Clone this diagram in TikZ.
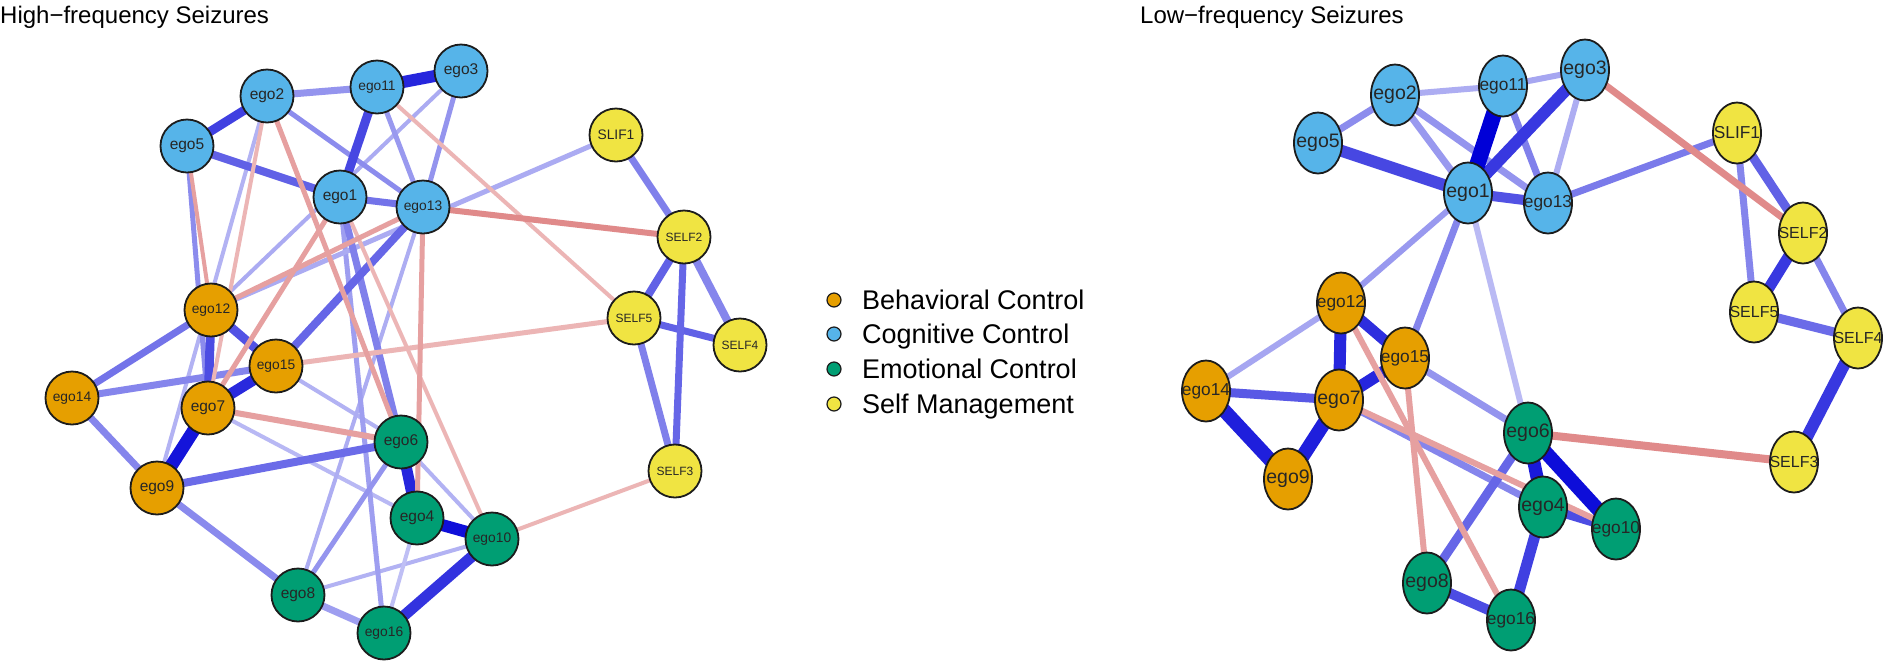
\documentclass[tikz,border=0pt]{standalone}
\usepackage{fontspec}
\setmainfont{Liberation Sans}
\usetikzlibrary{shapes.geometric}
\pgfdeclarelayer{bg}
\pgfsetlayers{bg,main}
\definecolor{qb}{RGB}{0,0,215}
\definecolor{nblue}{HTML}{56B4E9}
\definecolor{norange}{HTML}{E69F00}
\definecolor{ngreen}{HTML}{009E73}
\definecolor{nyellow}{HTML}{F0E442}
\definecolor{pkA}{HTML}{E08A8A}
\definecolor{pkB}{HTML}{E6A0A0}
\definecolor{pkC}{HTML}{ECB5B5}
\definecolor{nborder}{HTML}{1C1C1C}
\begin{document}
\begin{tikzpicture}[x=1pt,y=-1pt,
  lc/.style={circle, draw=nborder, line width=1.8pt, minimum size=53pt, inner sep=0pt, text=black!85},
  rc/.style={ellipse, draw=nborder, line width=1.8pt, minimum width=48pt, minimum height=61pt, inner sep=0pt},
  bc/.style={fill=nblue}, oc/.style={fill=norange}, gc/.style={fill=ngreen}, yc/.style={fill=nyellow},
  fa/.style={font=\fontsize{15.5}{16}\selectfont},
  fb/.style={font=\fontsize{13.8}{14}\selectfont},
  fs/.style={font=\fontsize{12}{13}\selectfont},
  rl/.style={text=black!85, inner sep=0pt},
  ra/.style={font=\fontsize{19.5}{20}\selectfont},
  rb/.style={font=\fontsize{17.3}{18}\selectfont},
  rs/.style={font=\fontsize{16}{17}\selectfont},
  pe/.style n args={2}{line width=#1pt, draw=qb!#2!white},
  ne/.style n args={2}{line width=#1pt, draw=#2},
  lgdot/.style={circle, draw=nborder, line width=1.2pt, minimum size=14pt, inner sep=0pt},
  lgtxt/.style={anchor=base west, inner sep=0pt, font=\fontsize{27}{30}\selectfont},
  ttl/.style={anchor=base west, inner sep=0pt, font=\fontsize{24}{28}\selectfont}
]
\useasboundingbox (0,0) rectangle (1890,665);
\begin{pgfonlayer}{bg}
\fill[white] (0,0) rectangle (1890,665);
\end{pgfonlayer}

% titles
\node[ttl] (t1) at (0,23) {High−frequency Seizures};
\node[ttl] (t2) at (1140,23) {Low−frequency Seizures};

% ---------------- left network nodes ----------------
\node[lc,bc,fa] (Lego2) at (267,96) {ego2};
\node[lc,bc,fb] (Lego11) at (377,87) {ego11};
\node[lc,bc,fa] (Lego3) at (461,71) {ego3};
\node[lc,bc,fa] (Lego5) at (187,146) {ego5};
\node[lc,bc,fa] (Lego1) at (340,197) {ego1};
\node[lc,bc,fb] (Lego13) at (423,207) {ego13};
\node[lc,oc,fb] (Lego12) at (211,310) {ego12};
\node[lc,oc,fb] (Lego15) at (276,366) {ego15};
\node[lc,oc,fb] (Lego14) at (72,398) {ego14};
\node[lc,oc,fa] (Lego7) at (208,408) {ego7};
\node[lc,oc,fa] (Lego9) at (157,488) {ego9};
\node[lc,gc,fa] (Lego6) at (401,442) {ego6};
\node[lc,gc,fa] (Lego4) at (417,518) {ego4};
\node[lc,gc,fb] (Lego10) at (492,539) {ego10};
\node[lc,gc,fa] (Lego8) at (298,595) {ego8};
\node[lc,gc,fb] (Lego16) at (384,633) {ego16};
\node[lc,yc,fb] (LSLIF1) at (616,135) {SLIF1};
\node[lc,yc,fs] (LSELF2) at (684,237) {SELF2};
\node[lc,yc,fs] (LSELF5) at (634,318) {SELF5};
\node[lc,yc,fs] (LSELF4) at (740,345) {SELF4};
\node[lc,yc,fs] (LSELF3) at (675,471) {SELF3};

% ---------------- right network nodes ----------------
\node[rc,bc,label={[rl,ra,name=Rl2]center:ego2}] (Rego2) at (1395,95) {};
\node[rc,bc,label={[rl,rb,name=Rl11]center:ego11}] (Rego11) at (1503,86) {};
\node[rc,bc,label={[rl,ra,name=Rl3]center:ego3}] (Rego3) at (1585,70) {};
\node[rc,bc,label={[rl,ra,name=Rl5]center:ego5}] (Rego5) at (1318,143) {};
\node[rc,bc,label={[rl,ra,name=Rl1]center:ego1}] (Rego1) at (1468,193) {};
\node[rc,bc,label={[rl,rb,name=Rl13]center:ego13}] (Rego13) at (1548,203) {};
\node[rc,oc,label={[rl,rb,name=Rl12]center:ego12}] (Rego12) at (1341,303) {};
\node[rc,oc,label={[rl,rb,name=Rl15]center:ego15}] (Rego15) at (1405,358) {};
\node[rc,oc,label={[rl,rb,name=Rl14]center:ego14}] (Rego14) at (1206,391) {};
\node[rc,oc,label={[rl,ra,name=Rl7]center:ego7}] (Rego7) at (1339,400) {};
\node[rc,oc,label={[rl,ra,name=Rl9]center:ego9}] (Rego9) at (1288,479) {};
\node[rc,gc,label={[rl,ra,name=Rl6]center:ego6}] (Rego6) at (1528,433) {};
\node[rc,gc,label={[rl,ra,name=Rl4]center:ego4}] (Rego4) at (1543,507) {};
\node[rc,gc,label={[rl,rb,name=Rl10]center:ego10}] (Rego10) at (1616,529) {};
\node[rc,gc,label={[rl,ra,name=Rl8]center:ego8}] (Rego8) at (1427,583) {};
\node[rc,gc,label={[rl,rb,name=Rl16]center:ego16}] (Rego16) at (1511,620) {};
\node[rc,yc,label={[rl,rb,name=RlS1]center:SLIF1}] (RSLIF1) at (1737,133) {};
\node[rc,yc,label={[rl,rs,name=RlS2]center:SELF2}] (RSELF2) at (1803,233) {};
\node[rc,yc,label={[rl,rs,name=RlS5]center:SELF5}] (RSELF5) at (1754,312) {};
\node[rc,yc,label={[rl,rs,name=RlS4]center:SELF4}] (RSELF4) at (1858,338) {};
\node[rc,yc,label={[rl,rs,name=RlS3]center:SELF3}] (RSELF3) at (1794,462) {};

% ---------------- legend ----------------
\node[lgdot,fill=norange] (lg1) at (834,300) {};
\node[lgdot,fill=nblue] (lg2) at (834,334) {};
\node[lgdot,fill=ngreen] (lg3) at (834,369) {};
\node[lgdot,fill=nyellow] (lg4) at (834,404) {};
\node[lgtxt] (lt1) at (862,309) {Behavioral Control};
\node[lgtxt] (lt2) at (862,343) {Cognitive Control};
\node[lgtxt] (lt3) at (862,378) {Emotional Control};
\node[lgtxt] (lt4) at (862,413) {Self Management};

% ---------------- left edges ----------------
\begin{pgfonlayer}{bg}
\foreach \a/\b/\w/\c in {
  ego3/ego12/4/33, ego2/ego9/4/30, ego7/ego4/4/28, ego15/ego6/4/30, ego6/ego10/4/30,
  ego13/ego8/4/32, ego8/ego10/4/30, ego4/ego16/4/25, ego1/ego16/5/38, ego12/SLIF1/5/33,
  ego2/ego13/5/45, ego11/ego13/5/40, ego3/ego13/5/42, ego5/ego7/5/45,
  ego6/ego8/5/42, ego8/ego16/7/38, ego2/ego11/7/42, ego9/ego8/7/46, ego14/ego9/7/48,
  ego14/ego15/7/48, ego12/ego14/7/55, SLIF1/SELF2/7/50, SELF2/SELF4/8/48, SELF5/SELF3/7/50,
  ego1/ego6/7/50, ego1/ego13/7/55, ego5/ego1/8/62, ego9/ego6/8/58, ego15/ego13/8/60,
  SELF5/SELF4/7/62, SELF2/SELF5/8/62, SELF2/SELF3/7/60, ego12/ego15/9/68, ego12/ego7/9/70,
  ego11/ego1/9/72, ego5/ego2/9/75, ego15/ego7/11/84, ego6/ego4/11/85, ego10/ego16/11/80,
  ego11/ego3/12/85, ego7/ego9/13/92, ego4/ego10/12/94}
  {\draw[pe={\w}{\c}] (L\a.center) -- (L\b.center);}
\foreach \a/\b/\w/\c in {
  ego11/SELF5/4/pkC, ego15/SELF5/5/pkC, SELF3/ego10/4/pkC, ego1/ego10/4/pkC, ego2/ego7/4/pkC,
  ego5/ego12/4/pkB, ego2/ego6/5/pkB, ego7/ego1/5/pkB, ego12/ego13/5/pkB, ego13/ego4/5/pkB,
  ego7/ego6/6/pkB, ego13/SELF2/6/pkA}
  {\draw[ne={\w}{\c}] (L\a.center) -- (L\b.center);}
\end{pgfonlayer}

% ---------------- right edges ----------------
\begin{pgfonlayer}{bg}
\foreach \a/\b/\w/\c in {
  ego1/ego6/6/27, ego2/ego11/6/32, ego3/ego13/6/32, ego11/ego3/6/35, ego12/ego14/6/35,
  ego2/ego1/7/40, ego1/ego12/6/40, ego2/ego13/7/42, ego15/ego6/7/42, ego5/ego2/7/45,
  ego1/ego15/7/48, SLIF1/SELF5/7/48, SELF2/SELF4/7/48, ego7/ego4/7/48, ego11/ego13/7/50,
  ego13/SLIF1/7/52, SELF5/SELF4/9/58, ego6/ego8/9/60, SLIF1/SELF2/9/62, ego14/ego7/9/65,
  ego1/ego13/10/68, ego8/ego16/10/70, ego4/ego10/9/70, ego5/ego1/12/72, ego4/ego16/11/75,
  ego3/ego1/12/78, SELF2/SELF5/11/78, SELF4/SELF3/12/78, ego12/ego15/11/82, ego12/ego7/12/85,
  ego7/ego15/12/85, ego14/ego9/14/88, ego7/ego9/14/88, ego6/ego4/13/90, ego6/ego10/14/95,
  ego11/ego1/16/100}
  {\draw[pe={\w}{\c}] (R\a.center) -- (R\b.center);}
\foreach \a/\b/\w/\c in {
  ego12/ego16/6/pkB, ego15/ego8/6/pkB, ego7/ego10/6/pkB, ego3/SELF2/7/pkA, SELF3/ego6/8/pkA}
  {\draw[ne={\w}{\c}] (R\a.center) -- (R\b.center);}
\end{pgfonlayer}
\end{tikzpicture}
\end{document}
